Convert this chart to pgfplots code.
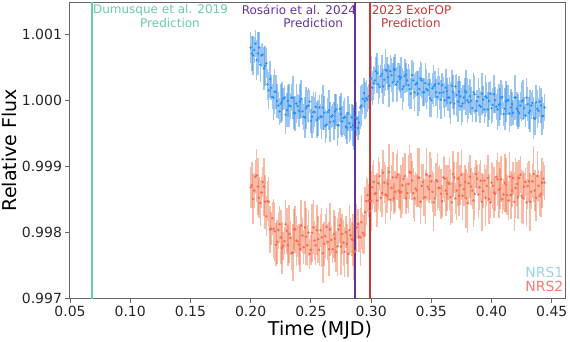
\documentclass[border=0pt]{standalone}
\usepackage{pgfplots}
\pgfplotsset{compat=1.18}
\usepackage{pgfplotstable}
\usepackage{fontspec}
\setmainfont{DejaVu Sans}
\definecolor{nrsblue}{HTML}{1E90FF}
\definecolor{nrsblueerr}{HTML}{3A8EE6}
\definecolor{nrsred}{HTML}{FF6347}
\definecolor{nrsrederr}{HTML}{F0774F}
\definecolor{legblue}{HTML}{9BD4EA}
\definecolor{legred}{HTML}{F47C6E}
\definecolor{dumcol}{HTML}{66CDAA}
\definecolor{roscol}{HTML}{663399}
\definecolor{exocol}{HTML}{C83737}

% NRS1, even samples
\pgfplotstableread{
x y e
0.200 1.00080 0.00024
0.202 1.00068 0.00029
0.204 1.00086 0.00020
0.206 1.00071 0.00032
0.208 1.00054 0.00026
0.210 1.00069 0.00018
0.212 1.00052 0.00031
0.214 1.00024 0.00023
0.216 1.00032 0.00028
0.218 1.00005 0.00019
0.220 1.00013 0.00034
0.222 0.99999 0.00026
0.224 0.99983 0.00021
0.226 0.99998 0.00030
0.228 1.00004 0.00017
0.230 0.99985 0.00026
0.232 0.99992 0.00032
0.234 1.00004 0.00020
0.236 0.99981 0.00024
0.238 0.99995 0.00029
0.240 0.99984 0.00024
0.242 1.00002 0.00029
0.244 0.99975 0.00020
0.246 0.99988 0.00032
0.248 0.99992 0.00026
0.250 0.99969 0.00018
0.252 0.99982 0.00031
0.254 0.99990 0.00023
0.256 0.99973 0.00028
0.258 0.99975 0.00019
0.260 0.99989 0.00034
0.262 0.99961 0.00026
0.264 0.99982 0.00021
0.266 0.99967 0.00030
0.268 0.99977 0.00017
0.270 0.99983 0.00026
0.272 0.99962 0.00032
0.274 0.99987 0.00020
0.276 0.99968 0.00024
0.278 0.99974 0.00029
0.280 0.99958 0.00024
0.282 0.99965 0.00029
0.284 0.99974 0.00020
0.286 0.99956 0.00032
0.288 0.99972 0.00026
0.290 0.99966 0.00018
0.292 0.99992 0.00031
0.294 1.00011 0.00023
0.296 1.00003 0.00028
0.298 1.00006 0.00019
0.300 1.00033 0.00034
0.302 1.00026 0.00026
0.304 1.00044 0.00021
0.306 1.00024 0.00030
0.308 1.00037 0.00017
0.310 1.00021 0.00026
0.312 1.00046 0.00032
0.314 1.00035 0.00020
0.316 1.00044 0.00024
0.318 1.00027 0.00029
0.320 1.00046 0.00024
0.322 1.00028 0.00029
0.324 1.00032 0.00020
0.326 1.00017 0.00032
0.328 1.00037 0.00026
0.330 1.00030 0.00018
0.332 1.00017 0.00031
0.334 1.00038 0.00023
0.336 1.00012 0.00028
0.338 1.00026 0.00019
0.340 1.00017 0.00034
0.342 1.00030 0.00026
0.344 1.00012 0.00021
0.346 1.00017 0.00030
0.348 1.00024 0.00017
0.350 1.00000 0.00026
0.352 1.00021 0.00032
0.354 1.00012 0.00020
0.356 1.00025 0.00024
0.358 1.00001 0.00029
0.360 1.00012 0.00024
0.362 1.00019 0.00029
0.364 1.00004 0.00020
0.366 0.99996 0.00032
0.368 1.00013 0.00026
0.370 1.00021 0.00018
0.372 0.99998 0.00031
0.374 1.00006 0.00023
0.376 0.99995 0.00028
0.378 1.00014 0.00019
0.380 1.00000 0.00034
0.382 1.00006 0.00026
0.384 0.99988 0.00021
0.386 1.00009 0.00030
0.388 0.99999 0.00017
0.390 0.99992 0.00026
0.392 1.00010 0.00032
0.394 0.99986 0.00020
0.396 1.00004 0.00024
0.398 0.99999 0.00029
0.400 0.99988 0.00024
0.402 1.00009 0.00029
0.404 0.99990 0.00020
0.406 0.99993 0.00032
0.408 1.00004 0.00026
0.410 0.99979 0.00018
0.412 0.99998 0.00031
0.414 1.00000 0.00023
0.416 0.99989 0.00028
0.418 0.99981 0.00019
0.420 1.00004 0.00034
0.422 0.99983 0.00026
0.424 0.99992 0.00021
0.426 1.00000 0.00030
0.428 0.99977 0.00017
0.430 0.99994 0.00026
0.432 0.99984 0.00032
0.434 0.99996 0.00020
0.436 0.99972 0.00024
0.438 0.99987 0.00029
0.440 0.99998 0.00024
0.442 0.99976 0.00029
0.444 0.99989 0.00020
}\nrsonea

% NRS1, odd samples
\pgfplotstableread{
x y e
0.201 1.00071 0.00026
0.203 1.00076 0.00020
0.205 1.00061 0.00031
0.207 1.00080 0.00024
0.209 1.00068 0.00018
0.211 1.00048 0.00032
0.213 1.00056 0.00023
0.215 1.00015 0.00028
0.217 1.00019 0.00019
0.219 1.00004 0.00034
0.221 1.00013 0.00026
0.223 0.99992 0.00021
0.225 0.99995 0.00030
0.227 1.00002 0.00017
0.229 0.99978 0.00029
0.231 0.99999 0.00024
0.233 0.99991 0.00020
0.235 1.00004 0.00032
0.237 0.99980 0.00026
0.239 0.99991 0.00019
0.241 0.99998 0.00026
0.243 0.99983 0.00020
0.245 0.99974 0.00031
0.247 0.99991 0.00024
0.249 0.99998 0.00018
0.251 0.99975 0.00032
0.253 0.99982 0.00023
0.255 0.99970 0.00028
0.257 0.99989 0.00019
0.259 0.99975 0.00034
0.261 0.99981 0.00026
0.263 0.99963 0.00021
0.265 0.99985 0.00030
0.267 0.99975 0.00017
0.269 0.99968 0.00029
0.271 0.99986 0.00024
0.273 0.99962 0.00020
0.275 0.99979 0.00032
0.277 0.99973 0.00026
0.279 0.99960 0.00019
0.281 0.99980 0.00026
0.283 0.99959 0.00020
0.285 0.99962 0.00031
0.287 0.99974 0.00024
0.289 0.99958 0.00018
0.291 0.99989 0.00032
0.293 1.00002 0.00023
0.295 0.99999 0.00028
0.297 1.00001 0.00019
0.299 1.00033 0.00034
0.301 1.00019 0.00026
0.303 1.00030 0.00021
0.305 1.00041 0.00030
0.307 1.00020 0.00017
0.309 1.00040 0.00029
0.311 1.00031 0.00024
0.313 1.00045 0.00020
0.315 1.00022 0.00032
0.317 1.00038 0.00026
0.319 1.00047 0.00019
0.321 1.00024 0.00026
0.323 1.00036 0.00020
0.325 1.00035 0.00031
0.327 1.00021 0.00024
0.329 1.00039 0.00018
0.331 1.00023 0.00032
0.333 1.00010 0.00023
0.335 1.00030 0.00028
0.337 1.00024 0.00019
0.339 1.00010 0.00034
0.341 1.00033 0.00026
0.343 1.00012 0.00021
0.345 1.00026 0.00030
0.347 1.00015 0.00017
0.349 1.00003 0.00029
0.351 1.00018 0.00024
0.353 1.00024 0.00020
0.355 1.00005 0.00032
0.357 1.00011 0.00026
0.359 1.00023 0.00019
0.361 1.00000 0.00026
0.363 1.00014 0.00020
0.365 1.00004 0.00031
0.367 1.00022 0.00024
0.369 0.99995 0.00018
0.371 1.00008 0.00032
0.373 1.00013 0.00023
0.375 0.99991 0.00028
0.377 1.00004 0.00019
0.379 1.00012 0.00034
0.381 0.99997 0.00026
0.383 0.99999 0.00021
0.385 1.00012 0.00030
0.387 0.99984 0.00017
0.389 1.00005 0.00029
0.391 0.99990 0.00024
0.393 1.00001 0.00020
0.395 1.00006 0.00032
0.397 0.99986 0.00026
0.399 1.00010 0.00019
0.401 0.99993 0.00026
0.403 1.00000 0.00020
0.405 0.99986 0.00031
0.407 0.99994 0.00024
0.409 1.00005 0.00018
0.411 0.99987 0.00032
0.413 1.00000 0.00023
0.415 0.99980 0.00028
0.417 0.99994 0.00019
0.419 1.00004 0.00034
0.421 0.99987 0.00026
0.423 0.99980 0.00021
0.425 0.99998 0.00030
0.427 0.99988 0.00017
0.429 1.00004 0.00029
0.431 0.99981 0.00024
0.433 0.99992 0.00020
0.435 0.99973 0.00032
0.437 0.99997 0.00026
0.439 0.99984 0.00019
0.441 0.99992 0.00026
0.443 0.99976 0.00020
}\nrsoneb

% NRS2, even samples
\pgfplotstableread{
x y e
0.200 0.99868 0.00031
0.202 0.99850 0.00038
0.204 0.99884 0.00026
0.206 0.99869 0.00043
0.208 0.99844 0.00035
0.210 0.99876 0.00023
0.212 0.99846 0.00041
0.214 0.99847 0.00030
0.216 0.99804 0.00036
0.218 0.99821 0.00025
0.220 0.99801 0.00045
0.222 0.99785 0.00033
0.224 0.99812 0.00028
0.226 0.99776 0.00040
0.228 0.99786 0.00021
0.230 0.99802 0.00035
0.232 0.99797 0.00044
0.234 0.99768 0.00026
0.236 0.99804 0.00031
0.238 0.99787 0.00038
0.240 0.99781 0.00031
0.242 0.99810 0.00038
0.244 0.99777 0.00026
0.246 0.99793 0.00043
0.248 0.99799 0.00035
0.250 0.99773 0.00023
0.252 0.99807 0.00041
0.254 0.99780 0.00030
0.256 0.99789 0.00036
0.258 0.99803 0.00025
0.260 0.99768 0.00045
0.262 0.99794 0.00033
0.264 0.99785 0.00028
0.266 0.99804 0.00040
0.268 0.99774 0.00021
0.270 0.99790 0.00035
0.272 0.99778 0.00044
0.274 0.99810 0.00026
0.276 0.99797 0.00031
0.278 0.99770 0.00038
0.280 0.99782 0.00031
0.282 0.99803 0.00038
0.284 0.99789 0.00026
0.286 0.99770 0.00043
0.288 0.99807 0.00035
0.290 0.99793 0.00023
0.292 0.99815 0.00041
0.294 0.99796 0.00030
0.296 0.99847 0.00036
0.298 0.99848 0.00025
0.300 0.99847 0.00045
0.302 0.99876 0.00033
0.304 0.99859 0.00028
0.306 0.99874 0.00040
0.308 0.99852 0.00021
0.310 0.99890 0.00035
0.312 0.99857 0.00044
0.314 0.99873 0.00026
0.316 0.99849 0.00031
0.318 0.99883 0.00038
0.320 0.99861 0.00031
0.322 0.99887 0.00038
0.324 0.99860 0.00026
0.326 0.99871 0.00043
0.328 0.99885 0.00035
0.330 0.99859 0.00023
0.332 0.99891 0.00041
0.334 0.99878 0.00030
0.336 0.99851 0.00036
0.338 0.99863 0.00025
0.340 0.99882 0.00045
0.342 0.99870 0.00033
0.344 0.99852 0.00028
0.346 0.99887 0.00040
0.348 0.99865 0.00021
0.350 0.99877 0.00035
0.352 0.99845 0.00044
0.354 0.99879 0.00026
0.356 0.99867 0.00031
0.358 0.99858 0.00038
0.360 0.99883 0.00031
0.362 0.99863 0.00038
0.364 0.99875 0.00026
0.366 0.99853 0.00043
0.368 0.99888 0.00035
0.370 0.99851 0.00023
0.372 0.99881 0.00041
0.374 0.99871 0.00030
0.376 0.99855 0.00036
0.378 0.99876 0.00025
0.380 0.99844 0.00045
0.382 0.99884 0.00033
0.384 0.99863 0.00028
0.386 0.99858 0.00040
0.388 0.99881 0.00021
0.390 0.99868 0.00035
0.392 0.99846 0.00044
0.394 0.99878 0.00026
0.396 0.99870 0.00031
0.398 0.99850 0.00038
0.400 0.99875 0.00031
0.402 0.99860 0.00038
0.404 0.99884 0.00026
0.406 0.99864 0.00043
0.408 0.99880 0.00035
0.410 0.99857 0.00023
0.412 0.99872 0.00041
0.414 0.99848 0.00030
0.416 0.99856 0.00036
0.418 0.99882 0.00025
0.420 0.99867 0.00045
0.422 0.99853 0.00033
0.424 0.99887 0.00028
0.426 0.99852 0.00040
0.428 0.99876 0.00021
0.430 0.99870 0.00035
0.432 0.99846 0.00044
0.434 0.99877 0.00026
0.436 0.99863 0.00031
0.438 0.99885 0.00038
0.440 0.99855 0.00031
0.442 0.99875 0.00038
0.444 0.99875 0.00026
}\nrstwoa

% NRS2, odd samples
\pgfplotstableread{
x y e
0.201 0.99871 0.00035
0.203 0.99863 0.00026
0.205 0.99886 0.00040
0.207 0.99852 0.00031
0.209 0.99860 0.00023
0.211 0.99869 0.00044
0.213 0.99824 0.00030
0.215 0.99846 0.00038
0.217 0.99805 0.00025
0.219 0.99805 0.00045
0.221 0.99781 0.00033
0.223 0.99803 0.00028
0.225 0.99792 0.00041
0.227 0.99779 0.00021
0.229 0.99812 0.00036
0.231 0.99780 0.00031
0.233 0.99791 0.00026
0.235 0.99769 0.00043
0.237 0.99804 0.00035
0.239 0.99786 0.00024
0.241 0.99774 0.00035
0.243 0.99795 0.00026
0.245 0.99807 0.00040
0.247 0.99780 0.00031
0.249 0.99767 0.00023
0.251 0.99799 0.00044
0.253 0.99787 0.00030
0.255 0.99803 0.00038
0.257 0.99773 0.00025
0.259 0.99792 0.00045
0.261 0.99782 0.00033
0.263 0.99808 0.00028
0.265 0.99774 0.00041
0.267 0.99788 0.00021
0.269 0.99797 0.00036
0.271 0.99770 0.00031
0.273 0.99804 0.00026
0.275 0.99778 0.00043
0.277 0.99784 0.00035
0.279 0.99800 0.00024
0.281 0.99767 0.00035
0.283 0.99795 0.00026
0.285 0.99788 0.00040
0.287 0.99771 0.00031
0.289 0.99812 0.00023
0.291 0.99792 0.00044
0.293 0.99799 0.00030
0.295 0.99830 0.00038
0.297 0.99856 0.00025
0.299 0.99832 0.00045
0.301 0.99868 0.00033
0.303 0.99858 0.00028
0.305 0.99848 0.00041
0.307 0.99885 0.00021
0.309 0.99859 0.00036
0.311 0.99875 0.00031
0.313 0.99855 0.00026
0.315 0.99891 0.00043
0.317 0.99867 0.00035
0.319 0.99851 0.00024
0.321 0.99883 0.00035
0.323 0.99863 0.00026
0.325 0.99861 0.00040
0.327 0.99881 0.00031
0.329 0.99851 0.00023
0.331 0.99873 0.00044
0.333 0.99890 0.00030
0.335 0.99859 0.00038
0.337 0.99866 0.00025
0.339 0.99883 0.00045
0.341 0.99846 0.00033
0.343 0.99876 0.00028
0.345 0.99853 0.00041
0.347 0.99869 0.00021
0.349 0.99885 0.00036
0.351 0.99861 0.00031
0.353 0.99851 0.00026
0.355 0.99877 0.00043
0.357 0.99867 0.00035
0.359 0.99847 0.00024
0.361 0.99881 0.00035
0.363 0.99858 0.00026
0.365 0.99873 0.00040
0.367 0.99845 0.00031
0.369 0.99883 0.00023
0.371 0.99863 0.00044
0.373 0.99855 0.00030
0.375 0.99887 0.00038
0.377 0.99865 0.00025
0.379 0.99851 0.00045
0.381 0.99874 0.00033
0.383 0.99869 0.00028
0.385 0.99848 0.00041
0.387 0.99888 0.00021
0.389 0.99857 0.00036
0.391 0.99878 0.00031
0.393 0.99862 0.00026
0.395 0.99852 0.00043
0.397 0.99882 0.00035
0.399 0.99845 0.00024
0.401 0.99870 0.00035
0.403 0.99858 0.00026
0.405 0.99880 0.00040
0.407 0.99866 0.00031
0.409 0.99850 0.00023
0.411 0.99875 0.00044
0.413 0.99856 0.00030
0.415 0.99884 0.00038
0.417 0.99863 0.00025
0.419 0.99846 0.00045
0.421 0.99873 0.00033
0.423 0.99882 0.00028
0.425 0.99855 0.00041
0.427 0.99869 0.00021
0.429 0.99845 0.00036
0.431 0.99877 0.00031
0.433 0.99861 0.00026
0.435 0.99888 0.00043
0.437 0.99852 0.00035
0.439 0.99870 0.00024
0.441 0.99858 0.00035
0.443 0.99881 0.00026
}\nrstwob

\begin{document}
\begin{tikzpicture}
\useasboundingbox (-70pt,-43pt) rectangle (500pt,298pt);
\begin{axis}[
  scale only axis, width=495pt, height=296pt,
  xmin=0.05, xmax=0.461, ymin=0.997, ymax=1.00149,
  scaled x ticks=false, scaled y ticks=false,
  xtick={0.05,0.10,0.15,0.20,0.25,0.30,0.35,0.40,0.45},
  xticklabels={0.05,0.10,0.15,0.20,0.25,0.30,0.35,0.40,0.45},
  ytick={0.997,0.998,0.999,1.000,1.001},
  yticklabels={0.997,0.998,0.999,1.000,1.001},
  tick pos=left, tick align=outside, major tick length=4.5pt,
  tick style={black!60, line width=0.9pt},
  axis line style={black!60, line width=1pt},
  ticklabel style={font=\fontsize{14pt}{16pt}\selectfont, text=black!85},
  xlabel={Time (MJD)}, ylabel={Relative Flux},
  every axis x label/.style={at={(axis description cs:0.505,-0.108)}, anchor=center, font=\fontsize{19pt}{22pt}\selectfont},
  every axis y label/.style={at={(axis description cs:-0.123,0.5)}, rotate=90, anchor=center, font=\fontsize{19pt}{22pt}\selectfont},
  legend style={draw=none, fill=none, at={(axis description cs:0.997,0.02)}, anchor=south east,
    font=\fontsize{14pt}{15pt}\selectfont, inner sep=0pt, row sep=4pt,
    nodes={inner sep=0pt, text height=10pt, text depth=0pt}},
  legend cell align=right,
  legend image code/.code={},
  clip=true,
  blueerr/.style={only marks, mark=*, mark size=1.0pt, color=nrsblue, mark options={opacity=0.9},
    error bars/.cd, y dir=both, y explicit,
    error bar style={line width=1.5pt, color=nrsblueerr, opacity=0.5}, error mark=none},
  rederr/.style={only marks, mark=*, mark size=1.0pt, color=nrsred, mark options={opacity=0.9},
    error bars/.cd, y dir=both, y explicit,
    error bar style={line width=1.5pt, color=nrsrederr, opacity=0.5}, error mark=none},
]
\addplot[blueerr] table[x=x, y=y, y error=e] {\nrsonea};
\addlegendentry{\textcolor{legblue}{NRS1}}
\addplot[rederr] table[x=x, y=y, y error=e] {\nrstwoa};
\addlegendentry{\textcolor{legred}{NRS2}}
\addplot[forget plot, blueerr] table[x=x, y=y, y error=e] {\nrsoneb};
\addplot[forget plot, rederr] table[x=x, y=y, y error=e] {\nrstwob};
\addplot[dumcol, line width=1.5pt, forget plot] coordinates {(0.0683,0.996) (0.0683,1.002)};
\addplot[roscol, line width=1.5pt, forget plot] coordinates {(0.2865,0.996) (0.2865,1.002)};
\addplot[exocol, line width=1.5pt, forget plot] coordinates {(0.2990,0.996) (0.2990,1.002)};
\node[anchor=west, inner sep=0pt, text=dumcol, font=\fontsize{12pt}{14pt}\selectfont] at (axis cs:0.0690,1.001371) {Dumusque et al. 2019};
\node[anchor=west, inner sep=0pt, text=dumcol, font=\fontsize{12pt}{14pt}\selectfont] at (axis cs:0.1081,1.001167) {Prediction};
\node[anchor=west, inner sep=0pt, text=roscol, font=\fontsize{12pt}{14pt}\selectfont] at (axis cs:0.1925,1.001371) {Rosário et al. 2024};
\node[anchor=west, inner sep=0pt, text=roscol, font=\fontsize{12pt}{14pt}\selectfont] at (axis cs:0.2270,1.001167) {Prediction};
\node[anchor=west, inner sep=0pt, text=exocol, font=\fontsize{12pt}{14pt}\selectfont] at (axis cs:0.3004,1.001371) {2023 ExoFOP};
\node[anchor=west, inner sep=0pt, text=exocol, font=\fontsize{12pt}{14pt}\selectfont] at (axis cs:0.3081,1.001167) {Prediction};
\node[anchor=east, inner sep=0pt, text=black!85, font=\fontsize{14pt}{16pt}\selectfont] at (axis description cs:1.002,-0.098) {+6.0149e4};
\end{axis}
\end{tikzpicture}
\end{document}
